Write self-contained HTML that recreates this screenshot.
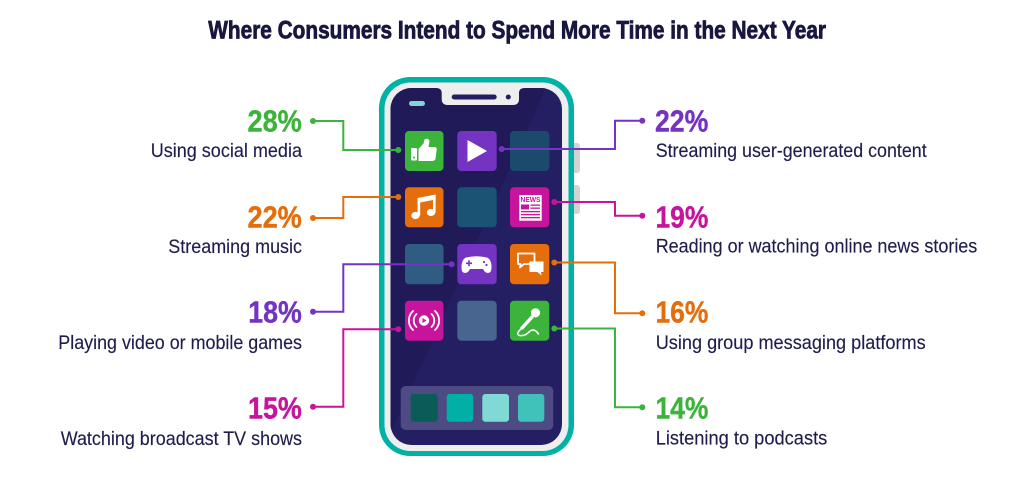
<!DOCTYPE html>
<html>
<head>
<meta charset="utf-8">
<style>
  html,body{margin:0;padding:0;background:#ffffff;}
  body{width:1024px;height:482px;overflow:hidden;}
  svg{display:block;}
  .t{font-family:"Liberation Sans",sans-serif;}
  .pct{font-family:"Liberation Sans",sans-serif;font-weight:bold;font-size:31px;stroke-width:0.4;}
  .lbl{font-family:"Liberation Sans",sans-serif;font-size:19.5px;fill:#201d4e;stroke:#201d4e;stroke-width:0.15;}
</style>
</head>
<body>
<svg width="1024" height="482" viewBox="0 0 1024 482" xmlns="http://www.w3.org/2000/svg">
  <defs>
    <clipPath id="scr">
      <rect x="390.5" y="88" width="171.5" height="357" rx="21" ry="21"/>
    </clipPath>
  </defs>

  <!-- Title -->
  <text class="t" x="208.3" y="38.3" font-size="25" font-weight="bold" fill="#19163f" stroke="#19163f" stroke-width="0.8" textLength="617.7" lengthAdjust="spacingAndGlyphs">Where Consumers Intend to Spend More Time in the Next Year</text>

  <!-- side buttons -->
  <rect x="568" y="143" width="12" height="30" rx="3" fill="#d3d3d3"/>
  <rect x="568" y="185" width="12" height="29" rx="3" fill="#d3d3d3"/>

  <!-- phone body -->
  <rect x="379" y="77" width="195" height="379" rx="31" ry="31" fill="#00b2a6"/>
  <rect x="384.5" y="82.5" width="184" height="368.5" rx="26" ry="26" fill="#eeeeee"/>
  <rect x="390.5" y="88" width="171.5" height="357" rx="21" ry="21" fill="#241e63"/>
  <g clip-path="url(#scr)">
    <polygon points="390,88 546,88 384,448 390,448" fill="#201a58"/>
  </g>

  <!-- notch -->
  <path d="M436,88 Q441.7,88 441.7,93 L441.7,99 Q441.7,105 447.7,105 L513,105 Q519,105 519,99 L519,93 Q519,88 524.7,88 Z" fill="#eeeeee"/>
  <rect x="451.7" y="94.5" width="45" height="5" rx="2.5" fill="#241e63"/>
  <circle cx="508.3" cy="97" r="2.5" fill="#241e63"/>
  <rect x="409" y="101" width="16" height="5" rx="2.5" fill="#7fd6d2"/>

  <!-- App tiles -->
  <rect x="405" y="131" width="38.5" height="40" rx="4" fill="#3cb43c"/>
  <rect x="457.3" y="131" width="39.4" height="40" rx="4" fill="#7433c0"/>
  <rect x="510" y="131" width="39.3" height="40" rx="4" fill="#1c4a6c"/>
  <rect x="405" y="187.3" width="38.5" height="40" rx="4" fill="#e46e0c"/>
  <rect x="457.3" y="187.3" width="39.4" height="40" rx="4" fill="#1a5373"/>
  <rect x="510" y="187.3" width="39.3" height="40" rx="4" fill="#c6149c"/>
  <rect x="405" y="244" width="38.5" height="40.3" rx="4" fill="#2f5c83"/>
  <rect x="457.3" y="244" width="39.4" height="40.3" rx="4" fill="#7433c0"/>
  <rect x="510" y="244" width="39.3" height="40.3" rx="4" fill="#e46e0c"/>
  <rect x="405" y="300.7" width="38.5" height="40" rx="4" fill="#c6149c"/>
  <rect x="457.3" y="300.7" width="39.4" height="40" rx="4" fill="#47658f"/>
  <rect x="510" y="300.7" width="39.3" height="40" rx="4" fill="#3cb43c"/>

  <!-- dock -->
  <rect x="400.7" y="386" width="152.6" height="44" rx="5" fill="#4d4a84"/>
  <rect x="410.7" y="394" width="27" height="27.7" rx="3" fill="#0b5c59"/>
  <rect x="446.7" y="394" width="26.6" height="27.7" rx="3" fill="#00afa6"/>
  <rect x="482.3" y="394" width="26.7" height="27.7" rx="3" fill="#80d9d4"/>
  <rect x="518" y="394" width="26.3" height="27.7" rx="3" fill="#40c2bb"/>

  <!-- Icon glyphs -->
  <rect x="411" y="148" width="6" height="12.5" rx="1" fill="#fff"/>
  <circle cx="414" cy="157.5" r="1" fill="#3cb43c"/>
  <path d="M418.5,149 L423.5,143.5 L424.5,139.5 Q428,137.5 429.5,141 L428.5,147 L435,147 Q437.5,148 436.5,150.5 L435.5,159 Q434.5,161 432,161 L418.5,161 Z" fill="#fff"/>
  <polygon points="467.5,140 467.5,162 487,151" fill="#fff"/>
  <ellipse cx="415.5" cy="215.5" rx="4.2" ry="3.6" fill="#fff"/>
  <ellipse cx="431" cy="212.5" rx="4.2" ry="3.6" fill="#fff"/>
  <rect x="417.6" y="198" width="2.6" height="17.5" fill="#fff"/>
  <rect x="433" y="195" width="2.6" height="17.5" fill="#fff"/>
  <polygon points="417.6,198 435.6,194.5 435.6,199.5 417.6,203" fill="#fff"/>
  <rect x="519.3" y="195" width="22.4" height="25.7" fill="#fff"/>
  <text class="t" x="520.5" y="202.2" font-size="7" font-weight="bold" fill="#c6149c" textLength="20" lengthAdjust="spacingAndGlyphs">NEWS</text>
  <rect x="521" y="204.5" width="8" height="5" fill="#c6149c"/>
  <rect x="530.5" y="204.5" width="9.5" height="1.3" fill="#c6149c"/>
  <rect x="530.5" y="207.5" width="9.5" height="1.3" fill="#c6149c"/>
  <rect x="521" y="211" width="19" height="1.3" fill="#c6149c"/>
  <rect x="521" y="214" width="19" height="1.3" fill="#c6149c"/>
  <rect x="521" y="217" width="19" height="1.3" fill="#c6149c"/>
  <path d="M466,257.5 Q476.5,255 487,257.5 Q491.5,259.5 491.5,267.5 Q491.5,273 488,273 Q485,273 483,269 L470,269 Q468,273 465,273 Q461.5,273 461.5,267.5 Q461.5,259.5 466,257.5 Z" fill="#fff"/>
  <rect x="466" y="262.5" width="6" height="1.6" fill="#7433c0"/>
  <rect x="468.2" y="260.3" width="1.6" height="6" fill="#7433c0"/>
  <circle cx="484" cy="262" r="1.1" fill="#7433c0"/>
  <circle cx="486.5" cy="265" r="1.1" fill="#7433c0"/>
  <path d="M518,253.5 L534.5,253.5 L534.5,264 L524,264 L520,267.5 L520.5,264 L518,264 Z" fill="none" stroke="#fff" stroke-width="1.8" stroke-linejoin="round"/>
  <path d="M529.5,261.5 L543.5,261.5 L543.5,272 L541,272 L541.5,275.5 L537.5,272 L529.5,272 Z" fill="#fff"/>
  <circle cx="424" cy="320.5" r="5.2" fill="#fff"/>
  <polygon points="422.5,318 422.5,323 426.5,320.5" fill="#c6149c"/>
  <path d="M416.5,314 A9,9 0 0 0 416.5,327" fill="none" stroke="#fff" stroke-width="1.8" stroke-linecap="round"/>
  <path d="M431.5,314 A9,9 0 0 1 431.5,327" fill="none" stroke="#fff" stroke-width="1.8" stroke-linecap="round"/>
  <path d="M413,311 A13,13 0 0 0 413,330" fill="none" stroke="#fff" stroke-width="1.8" stroke-linecap="round"/>
  <path d="M435,311 A13,13 0 0 1 435,330" fill="none" stroke="#fff" stroke-width="1.8" stroke-linecap="round"/>
  <circle cx="535.5" cy="312.8" r="4.6" fill="#fff"/>
  <line x1="532" y1="317" x2="522" y2="328" stroke="#fff" stroke-width="3.4" stroke-linecap="round"/>
  <path d="M522,328 Q515,334 519.5,335.5 Q525,336.5 529.5,331.5 Q534,327.5 538.5,334" fill="none" stroke="#fff" stroke-width="1.5" stroke-linecap="round"/>

  <!-- Connector lines -->
  <g fill="none" stroke-width="2" stroke-linejoin="miter">
    <polyline points="313,121 343.3,121 343.3,150 398.3,150" stroke="#3cb43c"/>
    <polyline points="313,218 343.3,218 343.3,197 398.3,197" stroke="#e46e0c"/>
    <polyline points="313,311.7 343.3,311.7 343.3,264.3 451.7,264.3" stroke="#7433c0"/>
    <polyline points="313,406.7 343.3,406.7 343.3,329.3 398.3,329.3" stroke="#c6149c"/>
    <polyline points="642.3,120.7 615,120.7 615,149 501.7,149" stroke="#7433c0"/>
    <polyline points="642.3,215.7 615,215.7 615,202 554.3,202" stroke="#c6149c"/>
    <polyline points="642.3,313.3 615,313.3 615,262.5 554.3,262.5" stroke="#e46e0c"/>
    <polyline points="642.3,407.3 615,407.3 615,328.5 554.3,328.5" stroke="#3cb43c"/>
  </g>
  <g>
    <circle cx="313" cy="121" r="3" fill="#3cb43c"/>
    <circle cx="398.3" cy="150" r="3" fill="#3cb43c"/>
    <circle cx="313" cy="218" r="3" fill="#e46e0c"/>
    <circle cx="398.3" cy="197" r="3" fill="#e46e0c"/>
    <circle cx="313" cy="311.7" r="3" fill="#7433c0"/>
    <circle cx="451.7" cy="264.3" r="3" fill="#7433c0"/>
    <circle cx="313" cy="406.7" r="3" fill="#c6149c"/>
    <circle cx="398.3" cy="329.3" r="3" fill="#c6149c"/>
    <circle cx="642.3" cy="120.7" r="3" fill="#7433c0"/>
    <circle cx="501.7" cy="149" r="3" fill="#7433c0"/>
    <circle cx="642.3" cy="215.7" r="3" fill="#c6149c"/>
    <circle cx="554.3" cy="202" r="3" fill="#c6149c"/>
    <circle cx="642.3" cy="313.3" r="3" fill="#e46e0c"/>
    <circle cx="554.3" cy="262.5" r="3" fill="#e46e0c"/>
    <circle cx="642.3" cy="407.3" r="3" fill="#3cb43c"/>
    <circle cx="554.3" cy="328.5" r="3" fill="#3cb43c"/>
  </g>

  <!-- Left labels -->
  <text class="pct" x="247.5" y="131.7" fill="#3cb43c" stroke="#3cb43c" textLength="54.3" lengthAdjust="spacingAndGlyphs">28%</text>
  <text class="lbl" x="150.7" y="157.2" textLength="151.3" lengthAdjust="spacingAndGlyphs">Using social media</text>

  <text class="pct" x="247.5" y="227.3" fill="#e46e0c" stroke="#e46e0c" textLength="54.3" lengthAdjust="spacingAndGlyphs">22%</text>
  <text class="lbl" x="168.3" y="253.2" textLength="133.7" lengthAdjust="spacingAndGlyphs">Streaming music</text>

  <text class="pct" x="248.3" y="322.7" fill="#7433c0" stroke="#7433c0" textLength="53.5" lengthAdjust="spacingAndGlyphs">18%</text>
  <text class="lbl" x="58.3" y="349" textLength="243.7" lengthAdjust="spacingAndGlyphs">Playing video or mobile games</text>

  <text class="pct" x="248" y="418.3" fill="#c6149c" stroke="#c6149c" textLength="53.8" lengthAdjust="spacingAndGlyphs">15%</text>
  <text class="lbl" x="60.7" y="445" textLength="241.3" lengthAdjust="spacingAndGlyphs">Watching broadcast TV shows</text>

  <!-- Right labels -->
  <text class="pct" x="655" y="131.7" fill="#7433c0" stroke="#7433c0" textLength="53.3" lengthAdjust="spacingAndGlyphs">22%</text>
  <text class="lbl" x="655.7" y="157" textLength="271" lengthAdjust="spacingAndGlyphs">Streaming user-generated content</text>

  <text class="pct" x="655.5" y="227.3" fill="#c6149c" stroke="#c6149c" textLength="52.8" lengthAdjust="spacingAndGlyphs">19%</text>
  <text class="lbl" x="655.7" y="252.5" textLength="321.6" lengthAdjust="spacingAndGlyphs">Reading or watching online news stories</text>

  <text class="pct" x="655.5" y="322.7" fill="#e46e0c" stroke="#e46e0c" textLength="52.8" lengthAdjust="spacingAndGlyphs">16%</text>
  <text class="lbl" x="655.7" y="349" textLength="270" lengthAdjust="spacingAndGlyphs">Using group messaging platforms</text>

  <text class="pct" x="655.5" y="418.3" fill="#3cb43c" stroke="#3cb43c" textLength="52.8" lengthAdjust="spacingAndGlyphs">14%</text>
  <text class="lbl" x="655.7" y="444.5" textLength="171.6" lengthAdjust="spacingAndGlyphs">Listening to podcasts</text>
</svg>
</body>
</html>
